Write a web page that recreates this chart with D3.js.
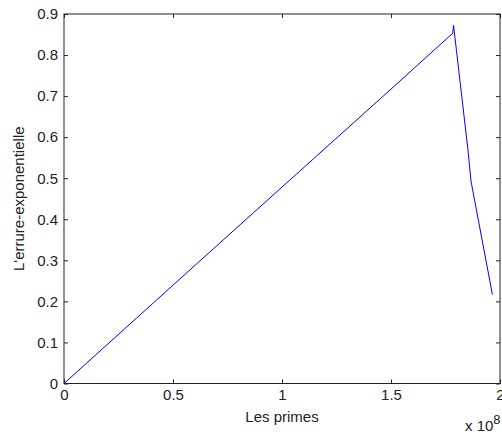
<!DOCTYPE html>
<html lang="en">
<head>
    <meta charset="UTF-8">
    <title>L'errure-exponentielle</title>
    <script src="https://d3js.org/d3.v7.min.js"></script>
    <style>
        body { margin: 0; background: #fff; }
        text { font-family: "Liberation Sans", Arial, sans-serif; fill: #222; }
        .line { fill: none; stroke: #0000ff; stroke-width: 1; }
    </style>
</head>
<body>
    <svg id="chart"></svg>
    <script>
        // points (x in units of 1e8)
        const primes = [0, 0.685, 1.083, 1.5, 1.783, 1.787, 1.853, 1.867, 1.965];
        const errors = [0, 0.328, 0.518, 0.717, 0.853, 0.872, 0.569, 0.493, 0.217];
        const xTicks = [0, 0.5, 1, 1.5, 2];
        const yTicks = [0, 0.1, 0.2, 0.3, 0.4, 0.5, 0.6, 0.7, 0.8, 0.9];

        const width = 502, height = 436;
        const mLeft = 64, mRight = 500, mTop = 14, mBottom = 383.5;

        const svg = d3.select('#chart')
            .attr('width', width)
            .attr('height', height);

        const x = d3.scaleLinear().domain([0, 2]).range([mLeft, mRight]);
        const y = d3.scaleLinear().domain([0, 0.9]).range([mBottom, mTop]);

        // data line
        const line = d3.line()
            .x((d, i) => x(primes[i]))
            .y(d => y(d));
        svg.append('path')
            .datum(errors)
            .attr('class', 'line')
            .attr('d', line);

        // axes, ticks pointing inward on all four sides
        const fmt = d => String(d);
        const styleAxis = g => {
            g.select('.domain').remove();
            g.selectAll('line').attr('stroke', '#222');
            g.selectAll('text')
                .style('font-size', '15px')
                .attr('font-family', '"Liberation Sans", Arial, sans-serif')
                .attr('fill', '#222');
        };

        svg.append('g')
            .attr('transform', `translate(0,${mBottom})`)
            .call(d3.axisBottom(x).tickValues(xTicks).tickFormat(fmt).tickSizeInner(-4).tickSizeOuter(0).tickPadding(6))
            .call(styleAxis);
        svg.append('g')
            .attr('transform', `translate(0,${mTop})`)
            .call(d3.axisTop(x).tickValues(xTicks).tickFormat('').tickSizeInner(-4).tickSizeOuter(0))
            .call(styleAxis);
        svg.append('g')
            .attr('transform', `translate(${mLeft},0)`)
            .call(d3.axisLeft(y).tickValues(yTicks).tickFormat(fmt).tickSizeInner(-4).tickSizeOuter(0).tickPadding(6))
            .call(styleAxis);
        svg.append('g')
            .attr('transform', `translate(${mRight},0)`)
            .call(d3.axisRight(y).tickValues(yTicks).tickFormat('').tickSizeInner(-4).tickSizeOuter(0))
            .call(styleAxis);

        // box
        svg.append('rect')
            .attr('x', mLeft).attr('y', mTop)
            .attr('width', mRight - mLeft).attr('height', mBottom - mTop)
            .attr('fill', 'none').attr('stroke', '#222').attr('stroke-width', 1);

        // labels
        svg.append('text')
            .attr('x', (mLeft + mRight) / 2).attr('y', 422)
            .attr('text-anchor', 'middle')
            .style('font-size', '15px')
            .text('Les primes');

        svg.append('text')
            .attr('transform', `translate(24,${(mTop + mBottom) / 2}) rotate(-90)`)
            .attr('text-anchor', 'middle')
            .style('font-size', '15px')
            .text("L'errure-exponentielle");

        const exp = svg.append('text')
            .attr('x', 465).attr('y', 431)
            .style('font-size', '15px');
        exp.append('tspan').text('x 10');
        exp.append('tspan').attr('dy', -7).style('font-size', '13px').text('8');
    </script>
</body>
</html>
